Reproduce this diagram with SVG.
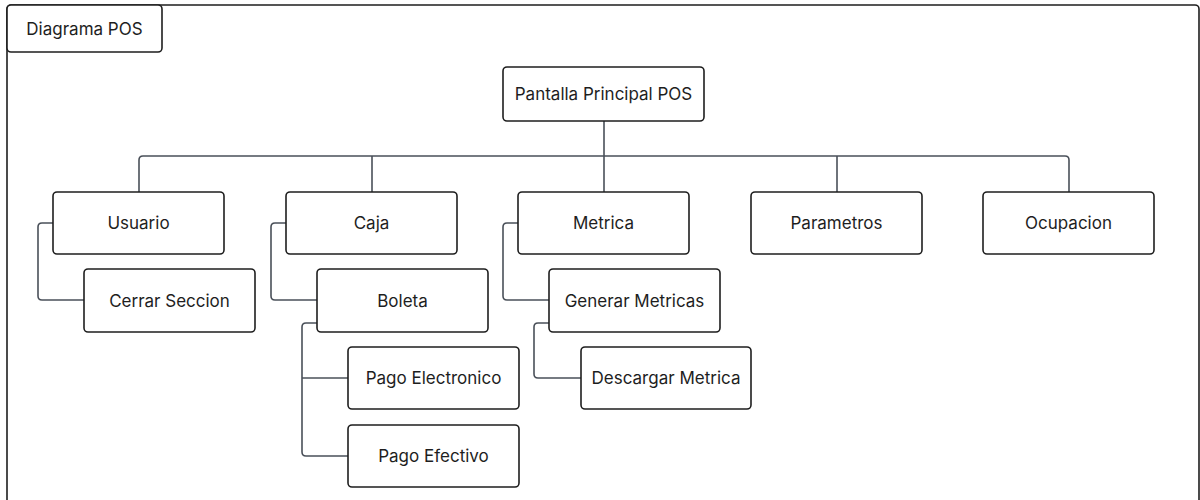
<svg xmlns="http://www.w3.org/2000/svg" width="1200" height="500" viewBox="0 0 1200 500">
  <style>
    .box { fill: #ffffff; stroke: #1e1e1e; stroke-width: 1.6; }
    .lbl { font-family: Inter, "Noto Sans", "Liberation Sans", sans-serif; font-size: 17px; fill: #1e1e1e; text-anchor: middle; dominant-baseline: central; }
    .wire { fill: none; stroke: #4a5059; stroke-width: 1.6; stroke-linejoin: round; }
  </style>
  <rect width="1200" height="500" fill="#ffffff"/>

  <!-- outer frame and its title tab -->
  <g id="frame">
    <rect x="7" y="5" width="1192" height="520" rx="4" fill="none" stroke="#1e1e1e" stroke-width="1.6"/>
    <rect x="7" y="5" width="155" height="47" rx="4" class="box"/>
    <text x="84.5" y="29" class="lbl">Diagrama POS</text>
  </g>

  <!-- connectors -->
  <g id="connectors">
    <!-- root to first level bus -->
    <path class="wire" d="M604 121 V156"/>
    <path class="wire" d="M139 192 V160 Q139 156 143 156 H1065 Q1069 156 1069 160 V192"/>
    <path class="wire" d="M372 156 V192"/>
    <path class="wire" d="M604 156 V192"/>
    <path class="wire" d="M837 156 V192"/>
    <!-- Usuario -> Cerrar Seccion -->
    <path class="wire" d="M53 223 H42 Q38 223 38 227 V296 Q38 300 42 300 H84"/>
    <!-- Caja -> Boleta -->
    <path class="wire" d="M286 223 H275 Q271 223 271 227 V296 Q271 300 275 300 H317"/>
    <!-- Boleta -> pagos -->
    <path class="wire" d="M317 323 H306 Q302 323 302 327 V452 Q302 456 306 456 H348"/>
    <path class="wire" d="M302 378 H348"/>
    <!-- Metrica -> Generar Metricas -->
    <path class="wire" d="M518 223 H507 Q503 223 503 227 V296 Q503 300 507 300 H549"/>
    <!-- Generar Metricas -> Descargar Metrica -->
    <path class="wire" d="M549 323 H538 Q534 323 534 327 V374 Q534 378 538 378 H581"/>
  </g>

  <g id="pantalla-principal">
    <rect x="503" y="67" width="201" height="54" rx="4" class="box"/>
    <text x="603.5" y="94" class="lbl">Pantalla Principal POS</text>
  </g>

  <g id="usuario">
    <rect x="53" y="192" width="171" height="62" rx="4" class="box"/>
    <text x="138.5" y="223" class="lbl">Usuario</text>
  </g>
  <g id="caja">
    <rect x="286" y="192" width="171" height="62" rx="4" class="box"/>
    <text x="371.5" y="223" class="lbl">Caja</text>
  </g>
  <g id="metrica">
    <rect x="518" y="192" width="171" height="62" rx="4" class="box"/>
    <text x="603.5" y="223" class="lbl">Metrica</text>
  </g>
  <g id="parametros">
    <rect x="751" y="192" width="171" height="62" rx="4" class="box"/>
    <text x="836.5" y="223" class="lbl">Parametros</text>
  </g>
  <g id="ocupacion">
    <rect x="983" y="192" width="171" height="62" rx="4" class="box"/>
    <text x="1068.5" y="223" class="lbl">Ocupacion</text>
  </g>

  <g id="cerrar-seccion">
    <rect x="84" y="269" width="171" height="63" rx="4" class="box"/>
    <text x="169.5" y="300.5" class="lbl">Cerrar Seccion</text>
  </g>
  <g id="boleta">
    <rect x="317" y="269" width="171" height="63" rx="4" class="box"/>
    <text x="402.5" y="300.5" class="lbl">Boleta</text>
  </g>
  <g id="generar-metricas">
    <rect x="549" y="269" width="171" height="63" rx="4" class="box"/>
    <text x="634.5" y="300.5" class="lbl">Generar Metricas</text>
  </g>

  <g id="pago-electronico">
    <rect x="348" y="347" width="171" height="62" rx="4" class="box"/>
    <text x="433.5" y="378" class="lbl">Pago Electronico</text>
  </g>
  <g id="pago-efectivo">
    <rect x="348" y="425" width="171" height="62" rx="4" class="box"/>
    <text x="433.5" y="456" class="lbl">Pago Efectivo</text>
  </g>
  <g id="descargar-metrica">
    <rect x="581" y="347" width="170" height="62" rx="4" class="box"/>
    <text x="666" y="378" class="lbl">Descargar Metrica</text>
  </g>
</svg>
